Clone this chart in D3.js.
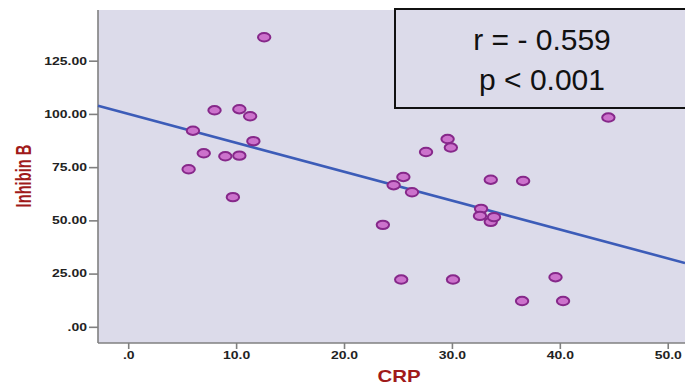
<!DOCTYPE html>
<html>
<head>
<meta charset="utf-8">
<script src="https://cdn.jsdelivr.net/npm/d3@7"></script>
<style>
  html, body { margin: 0; padding: 0; background: #ffffff; }
  svg { display: block; }
</style>
</head>
<body>
<svg id="chart" width="685" height="385"></svg>
<script>
// ---- data ----
const crp = [12.6, 8.0, 10.3, 11.3, 6.0, 11.6, 7.0, 9.0, 10.3, 5.6, 9.7,
             27.6, 25.5, 24.6, 26.3, 23.6, 25.3, 29.6, 29.9, 33.6, 36.6,
             32.7, 32.6, 33.6, 33.9, 30.1, 39.6, 36.5, 40.3, 44.5];
const inhibinB = [136.0, 101.7, 102.2, 98.9, 92.1, 87.2, 81.5, 80.1, 80.4, 74.0, 60.9,
                  82.1, 70.4, 66.5, 63.2, 47.9, 22.2, 88.2, 84.2, 69.1, 68.5,
                  55.4, 52.1, 49.3, 51.5, 22.2, 23.3, 12.1, 12.1, 98.3];
const fitIntercept = 100.0;
const fitSlope = -1.357;
const xTicks = [0, 10, 20, 30, 40, 50];
const yTicks = [0, 25, 50, 75, 100, 125];
const statLines = ["r = - 0.559", "p < 0.001"];
const xTitle = "CRP";
const yTitle = "Inhibin B";

// ---- layout ----
const svg = d3.select("#chart");
const plot = {left: 98, right: 685, top: 10, bottom: 343};
const x = d3.scaleLinear().domain([-2.8, 51.6]).range([plot.left, plot.right]);
const y = d3.scaleLinear().domain([-7.6, 148.8]).range([plot.bottom, plot.top]);

const bg = "#dcdbea";
const axisColor = "#808080";
const titleColor = "#a01a1a";

// plot background
svg.append("rect")
  .attr("x", plot.left).attr("y", plot.top)
  .attr("width", plot.right - plot.left).attr("height", plot.bottom - plot.top)
  .attr("fill", bg);

// stretch helper for the slightly wide tick labels
function stretch(sel, factor) {
  sel.each(function() {
    const len = this.getComputedTextLength();
    d3.select(this).attr("textLength", len * factor).attr("lengthAdjust", "spacingAndGlyphs");
  });
}

// y axis
const yAxis = d3.axisLeft(y).tickValues(yTicks)
  .tickFormat(d => d3.format(".2f")(d).replace(/^0\./, "."))
  .tickSize(9).tickSizeOuter(0).tickPadding(2);
const gy = svg.append("g").attr("transform", `translate(${plot.left},0)`).call(yAxis);
gy.select(".domain").attr("stroke", axisColor).attr("stroke-width", 1.6)
  .attr("d", `M0,${plot.top}V${plot.bottom}`);
gy.selectAll(".tick line").attr("stroke", axisColor).attr("stroke-width", 1.6);
gy.selectAll(".tick text")
  .attr("fill", "#222").attr("font-family", "'Liberation Sans', Arial, sans-serif")
  .attr("font-weight", "bold").attr("font-size", 10.5);
stretch(gy.selectAll(".tick text"), 1.33);

// x axis
const xAxis = d3.axisBottom(x).tickValues(xTicks)
  .tickFormat(d => d3.format(".1f")(d).replace(/^0\./, "."))
  .tickSize(6).tickSizeOuter(0).tickPadding(3);
const gx = svg.append("g").attr("transform", `translate(0,${plot.bottom})`).call(xAxis);
gx.select(".domain").attr("stroke", axisColor).attr("stroke-width", 1.6)
  .attr("d", `M${plot.left},0H${plot.right}`);
gx.selectAll(".tick line").attr("stroke", axisColor).attr("stroke-width", 1.6);
gx.selectAll(".tick text")
  .attr("fill", "#222").attr("font-family", "'Liberation Sans', Arial, sans-serif")
  .attr("font-weight", "bold").attr("font-size", 10.5);
stretch(gx.selectAll(".tick text"), 1.33);

// regression line
const x0 = x.domain()[0], x1 = x.domain()[1];
svg.append("line")
  .attr("x1", x(x0)).attr("y1", y(fitIntercept + fitSlope * x0))
  .attr("x2", x(x1)).attr("y2", y(fitIntercept + fitSlope * x1))
  .attr("stroke", "#3c5cb8").attr("stroke-width", 2.6);

// points
const pts = crp.map((c, i) => ({c, v: inhibinB[i]}));
svg.append("g").selectAll("ellipse").data(pts).join("ellipse")
  .attr("cx", d => x(d.c)).attr("cy", d => y(d.v))
  .attr("rx", 6.2).attr("ry", 4.2)
  .attr("fill", "#cc72cc").attr("stroke", "#86288a").attr("stroke-width", 2);

// stats box
svg.append("rect")
  .attr("x", 395).attr("y", 9).attr("width", 300).attr("height", 99)
  .attr("fill", bg).attr("stroke", "#111").attr("stroke-width", 2);
svg.append("g").selectAll("text").data(statLines).join("text")
  .attr("x", 542).attr("y", (d, i) => 50 + i * 40)
  .attr("text-anchor", "middle")
  .attr("font-family", "'Liberation Sans', Arial, sans-serif")
  .attr("font-size", 30).attr("fill", "#111")
  .text(d => d);

// axis titles
svg.append("text")
  .attr("x", 399).attr("y", 382).attr("text-anchor", "middle")
  .attr("font-family", "'Liberation Sans', Arial, sans-serif")
  .attr("font-weight", "bold").attr("font-size", 16.5).attr("fill", titleColor)
  .attr("transform", "translate(399,0) scale(1.24,1) translate(-399,0)")
  .text(xTitle);

svg.append("text")
  .attr("transform", "translate(31,176) scale(1.5,1) rotate(-90)")
  .attr("text-anchor", "middle")
  .attr("font-family", "'Liberation Sans', Arial, sans-serif")
  .attr("font-weight", "bold").attr("font-size", 14.7).attr("fill", titleColor)
  .text(yTitle);
</script>
</body>
</html>
